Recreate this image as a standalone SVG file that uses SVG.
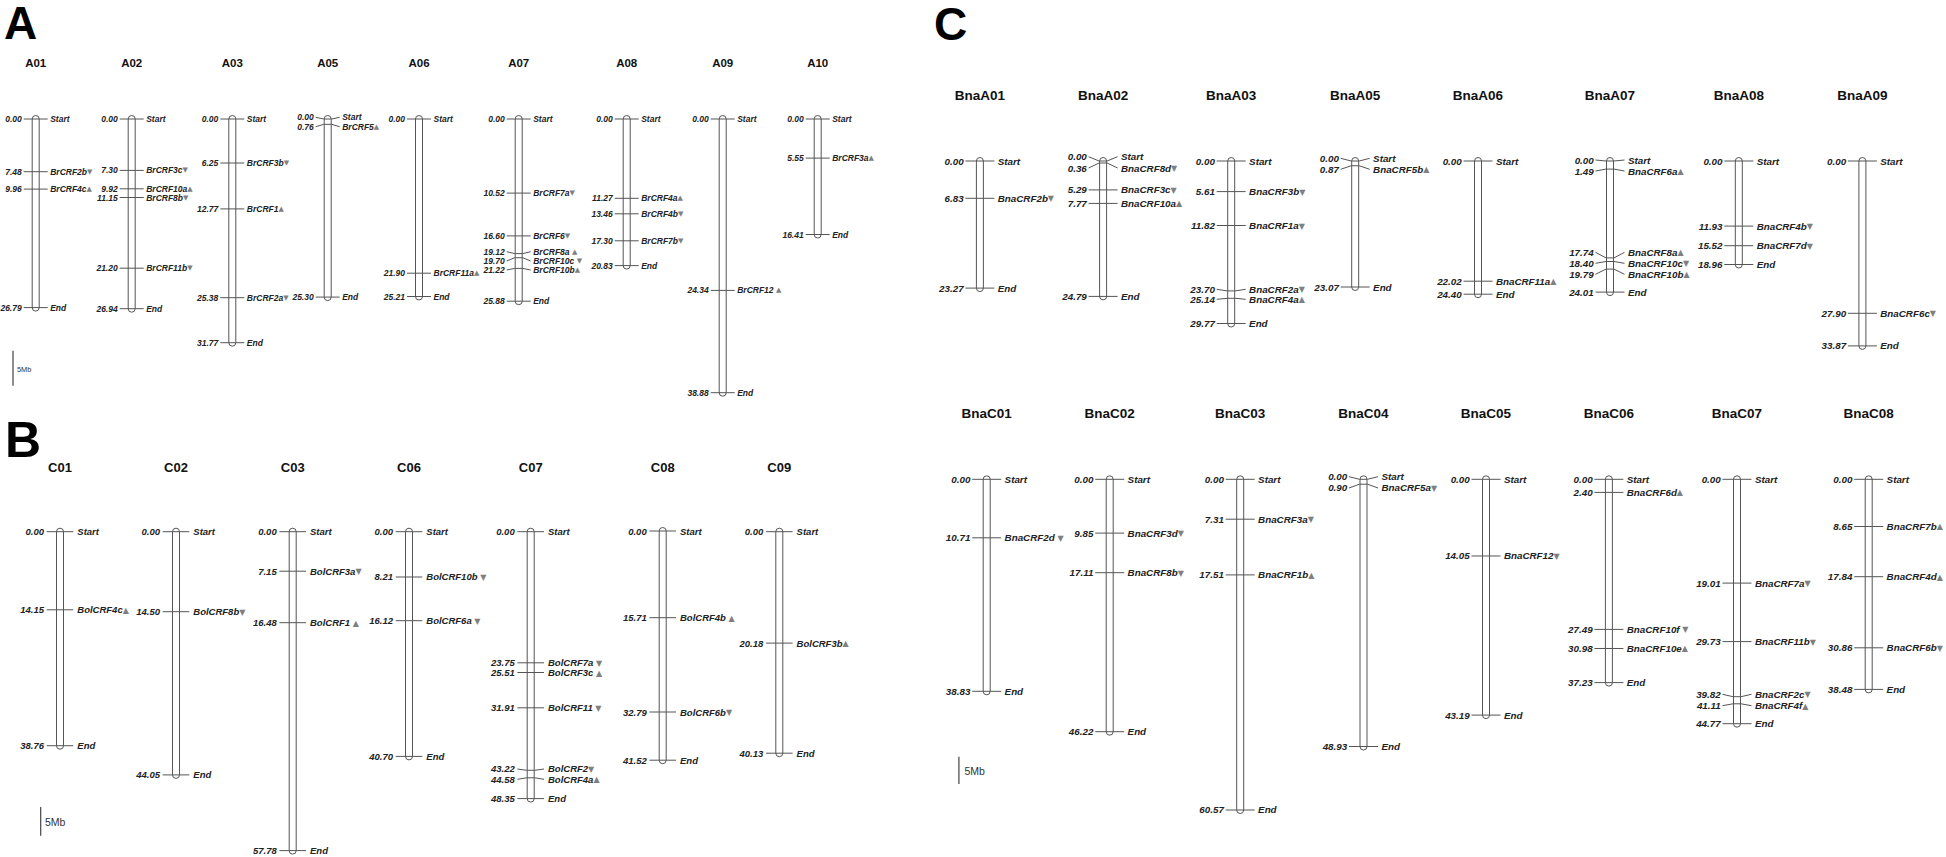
<svg xmlns="http://www.w3.org/2000/svg" width="1946" height="857" viewBox="0 0 1946 857">
<style>
text{font-family:"Liberation Sans",Arial,sans-serif;dominant-baseline:central}
.ch{fill:#fff;stroke:#555;stroke-width:1}
.tk{fill:none;stroke:#555;stroke-width:1}
.na,.ga{font-style:italic;font-weight:bold;font-size:8.5px;fill:#222}
.nb,.gb{font-style:italic;font-weight:bold;font-size:9.5px;fill:#222}
.nc,.gc{font-style:italic;font-weight:bold;font-size:9.8px;fill:#222}
.na,.nb,.nc{text-anchor:end}
.tr{font-family:"DejaVu Sans",sans-serif;font-style:normal;fill:#808080;font-size:7px}
.trb{font-family:"DejaVu Sans",sans-serif;font-style:normal;fill:#808080;font-size:8px}
.ta{font-weight:bold;font-size:11.5px;text-anchor:middle;fill:#111}
.tb{font-weight:bold;font-size:13px;text-anchor:middle;fill:#111}
.tc{font-weight:bold;font-size:13.5px;text-anchor:middle;fill:#111}
.big{font-weight:bold;font-size:46px;fill:#000;dominant-baseline:auto}
.sb{stroke:#444;stroke-width:1.2}
.sbt{font-size:10.5px;fill:#333}
</style>
<rect width="1946" height="857" fill="#fff"/>
<g id="labels">
<text class="big" x="4" y="39">A</text>
<text class="big" x="5" y="457" style="font-size:50px">B</text>
<text class="big" x="934" y="39.5">C</text>
</g>
<g id="scalebars">
<line class="sb" x1="13" y1="350.7" x2="13" y2="385.7"/><text class="sbt" x="17" y="369" style="font-size:7.4px">5Mb</text>
<line class="sb" x1="40.7" y1="807" x2="40.7" y2="835.7"/><text class="sbt" x="45" y="822">5Mb</text>
<line class="sb" x1="958.9" y1="756.7" x2="958.9" y2="784"/><text class="sbt" x="964.4" y="770.7">5Mb</text>
</g>
<g id="titles">
<text class="ta" x="35.7" y="63">A01</text><text class="ta" x="131.7" y="63">A02</text><text class="ta" x="232.3" y="63">A03</text><text class="ta" x="327.7" y="63">A05</text><text class="ta" x="419" y="63">A06</text><text class="ta" x="518.7" y="63">A07</text><text class="ta" x="626.7" y="63">A08</text><text class="ta" x="722.7" y="63">A09</text><text class="ta" x="817.7" y="63">A10</text>
<text class="tb" x="60" y="467.7">C01</text><text class="tb" x="176" y="467.7">C02</text><text class="tb" x="292.7" y="467.7">C03</text><text class="tb" x="409" y="467.7">C06</text><text class="tb" x="530.7" y="467.7">C07</text><text class="tb" x="662.7" y="467.7">C08</text><text class="tb" x="779.3" y="467.7">C09</text>
<text class="tc" x="979.9" y="95">BnaA01</text><text class="tc" x="1103.1" y="95">BnaA02</text><text class="tc" x="1231.2" y="95">BnaA03</text><text class="tc" x="1355.2" y="95">BnaA05</text><text class="tc" x="1478" y="95">BnaA06</text><text class="tc" x="1610" y="95">BnaA07</text><text class="tc" x="1738.8" y="95">BnaA08</text><text class="tc" x="1862.4" y="95">BnaA09</text>
<text class="tc" x="986.7" y="413.3">BnaC01</text><text class="tc" x="1109.7" y="413.3">BnaC02</text><text class="tc" x="1240.2" y="413.3">BnaC03</text><text class="tc" x="1363.5" y="413.3">BnaC04</text><text class="tc" x="1486" y="413.3">BnaC05</text><text class="tc" x="1608.9" y="413.3">BnaC06</text><text class="tc" x="1737" y="413.3">BnaC07</text><text class="tc" x="1868.7" y="413.3">BnaC08</text>
</g>

<!-- Panel A -->
<g id="A01" transform="translate(35.7,119)">
<rect class="ch" x="-3.5" y="-3.5" width="7" height="195.6" rx="3.5"/>
<path class="tk" d="M-12 0H12M-12 52.7H12M-12 70.1H12M-12 188.6H12"/>
<text class="na" x="-14" y="0">0.00</text><text class="ga" x="14.5" y="0">Start</text>
<text class="na" x="-14" y="52.7">7.48</text><text class="ga" x="14.5" y="52.7">BrCRF2b<tspan class="tr">▼</tspan></text>
<text class="na" x="-14" y="70.1">9.96</text><text class="ga" x="14.5" y="70.1">BrCRF4c<tspan class="tr">▲</tspan></text>
<text class="na" x="-14" y="188.6">26.79</text><text class="ga" x="14.5" y="188.6">End</text>
</g>
<g id="A02" transform="translate(131.7,119)">
<rect class="ch" x="-3.5" y="-3.5" width="7" height="196.7" rx="3.5"/>
<path class="tk" d="M-12 0H12M-12 51.4H12M-12 69.8H12M-12 78.5H12M-12 149.2H12M-12 189.7H12"/>
<text class="na" x="-14" y="0">0.00</text><text class="ga" x="14.5" y="0">Start</text>
<text class="na" x="-14" y="51.4">7.30</text><text class="ga" x="14.5" y="51.4">BrCRF3c<tspan class="tr">▼</tspan></text>
<text class="na" x="-14" y="69.8">9.92</text><text class="ga" x="14.5" y="69.8">BrCRF10a<tspan class="tr">▲</tspan></text>
<text class="na" x="-14" y="78.5">11.15</text><text class="ga" x="14.5" y="78.5">BrCRF8b<tspan class="tr">▼</tspan></text>
<text class="na" x="-14" y="149.2">21.20</text><text class="ga" x="14.5" y="149.2">BrCRF11b<tspan class="tr">▼</tspan></text>
<text class="na" x="-14" y="189.7">26.94</text><text class="ga" x="14.5" y="189.7">End</text>
</g>
<g id="A03" transform="translate(232.3,119)">
<rect class="ch" x="-3.5" y="-3.5" width="7" height="230.7" rx="3.5"/>
<path class="tk" d="M-12 0H12M-12 44H12M-12 89.9H12M-12 178.7H12M-12 223.7H12"/>
<text class="na" x="-14" y="0">0.00</text><text class="ga" x="14.5" y="0">Start</text>
<text class="na" x="-14" y="44">6.25</text><text class="ga" x="14.5" y="44">BrCRF3b<tspan class="tr">▼</tspan></text>
<text class="na" x="-14" y="89.9">12.77</text><text class="ga" x="14.5" y="89.9">BrCRF1<tspan class="tr">▲</tspan></text>
<text class="na" x="-14" y="178.7">25.38</text><text class="ga" x="14.5" y="178.7">BrCRF2a<tspan class="tr">▼</tspan></text>
<text class="na" x="-14" y="223.7">31.77</text><text class="ga" x="14.5" y="223.7">End</text>
</g>
<g id="A05" transform="translate(327.7,119)">
<rect class="ch" x="-3.5" y="-3.5" width="7" height="185.1" rx="3.5"/>
<path class="tk" d="M-12 -1.7L-4 0H4L12 -1.7M-12 7.7L-4 5.35H4L12 7.7M-12 178.1H12"/>
<text class="na" x="-14" y="-1.7">0.00</text><text class="ga" x="14.5" y="-1.7">Start</text>
<text class="na" x="-14" y="7.7">0.76</text><text class="ga" x="14.5" y="7.7">BrCRF5<tspan class="tr">▲</tspan></text>
<text class="na" x="-14" y="178.1">25.30</text><text class="ga" x="14.5" y="178.1">End</text>
</g>
<g id="A06" transform="translate(419,119)">
<rect class="ch" x="-3.5" y="-3.5" width="7" height="184.5" rx="3.5"/>
<path class="tk" d="M-12 0H12M-12 154.2H12M-12 177.5H12"/>
<text class="na" x="-14" y="0">0.00</text><text class="ga" x="14.5" y="0">Start</text>
<text class="na" x="-14" y="154.2">21.90</text><text class="ga" x="14.5" y="154.2">BrCRF11a<tspan class="tr">▲</tspan></text>
<text class="na" x="-14" y="177.5">25.21</text><text class="ga" x="14.5" y="177.5">End</text>
</g>
<g id="A07" transform="translate(518.7,119)">
<rect class="ch" x="-3.5" y="-3.5" width="7" height="189.2" rx="3.5"/>
<path class="tk" d="M-12 0H12M-12 74.1H12M-12 116.9H12M-12 132.7L-4 134.6H4L12 132.7M-12 142L-4 138.7H4L12 142M-12 151L-4 149.4H4L12 151M-12 182.2H12"/>
<text class="na" x="-14" y="0">0.00</text><text class="ga" x="14.5" y="0">Start</text>
<text class="na" x="-14" y="74.1">10.52</text><text class="ga" x="14.5" y="74.1">BrCRF7a<tspan class="tr">▼</tspan></text>
<text class="na" x="-14" y="116.9">16.60</text><text class="ga" x="14.5" y="116.9">BrCRF6<tspan class="tr">▼</tspan></text>
<text class="na" x="-14" y="132.7">19.12</text><text class="ga" x="14.5" y="132.7">BrCRF8a <tspan class="tr">▲</tspan></text>
<text class="na" x="-14" y="142">19.70</text><text class="ga" x="14.5" y="142">BrCRF10c <tspan class="tr">▼</tspan></text>
<text class="na" x="-14" y="151">21.22</text><text class="ga" x="14.5" y="151">BrCRF10b<tspan class="tr">▲</tspan></text>
<text class="na" x="-14" y="182.2">25.88</text><text class="ga" x="14.5" y="182.2">End</text>
</g>
<g id="A08" transform="translate(626.7,119)">
<rect class="ch" x="-3.5" y="-3.5" width="7" height="153.6" rx="3.5"/>
<path class="tk" d="M-12 0H12M-12 79.3H12M-12 94.8H12M-12 121.8H12M-12 146.6H12"/>
<text class="na" x="-14" y="0">0.00</text><text class="ga" x="14.5" y="0">Start</text>
<text class="na" x="-14" y="79.3">11.27</text><text class="ga" x="14.5" y="79.3">BrCRF4a<tspan class="tr">▲</tspan></text>
<text class="na" x="-14" y="94.8">13.46</text><text class="ga" x="14.5" y="94.8">BrCRF4b<tspan class="tr">▼</tspan></text>
<text class="na" x="-14" y="121.8">17.30</text><text class="ga" x="14.5" y="121.8">BrCRF7b<tspan class="tr">▼</tspan></text>
<text class="na" x="-14" y="146.6">20.83</text><text class="ga" x="14.5" y="146.6">End</text>
</g>
<g id="A09" transform="translate(722.7,119)">
<rect class="ch" x="-3.5" y="-3.5" width="7" height="280.7" rx="3.5"/>
<path class="tk" d="M-12 0H12M-12 171.4H12M-12 273.7H12"/>
<text class="na" x="-14" y="0">0.00</text><text class="ga" x="14.5" y="0">Start</text>
<text class="na" x="-14" y="171.4">24.34</text><text class="ga" x="14.5" y="171.4">BrCRF12 <tspan class="tr">▲</tspan></text>
<text class="na" x="-14" y="273.7">38.88</text><text class="ga" x="14.5" y="273.7">End</text>
</g>
<g id="A10" transform="translate(817.7,119)">
<rect class="ch" x="-3.5" y="-3.5" width="7" height="122.5" rx="3.5"/>
<path class="tk" d="M-12 0H12M-12 39.1H12M-12 115.5H12"/>
<text class="na" x="-14" y="0">0.00</text><text class="ga" x="14.5" y="0">Start</text>
<text class="na" x="-14" y="39.1">5.55</text><text class="ga" x="14.5" y="39.1">BrCRF3a<tspan class="tr">▲</tspan></text>
<text class="na" x="-14" y="115.5">16.41</text><text class="ga" x="14.5" y="115.5">End</text>
</g>

<!-- Panel B -->
<g id="C01" transform="translate(60,531.7)">
<rect class="ch" x="-3.5" y="-3.5" width="7" height="221" rx="3.5"/>
<path class="tk" d="M-13.3 0H13.3M-13.3 78.1H13.3M-13.3 214H13.3"/>
<text class="nb" x="-16" y="0">0.00</text><text class="gb" x="17.3" y="0">Start</text>
<text class="nb" x="-16" y="78.1">14.15</text><text class="gb" x="17.3" y="78.1">BolCRF4c<tspan class="trb">▲</tspan></text>
<text class="nb" x="-16" y="214">38.76</text><text class="gb" x="17.3" y="214">End</text>
</g>
<g id="C02" transform="translate(176,531.7)">
<rect class="ch" x="-3.5" y="-3.5" width="7" height="250.2" rx="3.5"/>
<path class="tk" d="M-13.3 0H13.3M-13.3 80H13.3M-13.3 243.2H13.3"/>
<text class="nb" x="-16" y="0">0.00</text><text class="gb" x="17.3" y="0">Start</text>
<text class="nb" x="-16" y="80">14.50</text><text class="gb" x="17.3" y="80">BolCRF8b<tspan class="trb">▼</tspan></text>
<text class="nb" x="-16" y="243.2">44.05</text><text class="gb" x="17.3" y="243.2">End</text>
</g>
<g id="C03" transform="translate(292.7,531.7)">
<rect class="ch" x="-3.5" y="-3.5" width="7" height="325.9" rx="3.5"/>
<path class="tk" d="M-13.3 0H13.3M-13.3 39.5H13.3M-13.3 91H13.3M-13.3 318.9H13.3"/>
<text class="nb" x="-16" y="0">0.00</text><text class="gb" x="17.3" y="0">Start</text>
<text class="nb" x="-16" y="39.5">7.15</text><text class="gb" x="17.3" y="39.5">BolCRF3a<tspan class="trb">▼</tspan></text>
<text class="nb" x="-16" y="91">16.48</text><text class="gb" x="17.3" y="91">BolCRF1 <tspan class="trb">▲</tspan></text>
<text class="nb" x="-16" y="318.9">57.78</text><text class="gb" x="17.3" y="318.9">End</text>
</g>
<g id="C06" transform="translate(409,531.7)">
<rect class="ch" x="-3.5" y="-3.5" width="7" height="231.7" rx="3.5"/>
<path class="tk" d="M-13.3 0H13.3M-13.3 45.3H13.3M-13.3 89H13.3M-13.3 224.7H13.3"/>
<text class="nb" x="-16" y="0">0.00</text><text class="gb" x="17.3" y="0">Start</text>
<text class="nb" x="-16" y="45.3">8.21</text><text class="gb" x="17.3" y="45.3">BolCRF10b <tspan class="trb">▼</tspan></text>
<text class="nb" x="-16" y="89">16.12</text><text class="gb" x="17.3" y="89">BolCRF6a <tspan class="trb">▼</tspan></text>
<text class="nb" x="-16" y="224.7">40.70</text><text class="gb" x="17.3" y="224.7">End</text>
</g>
<g id="C07" transform="translate(530.7,531.7)">
<rect class="ch" x="-3.5" y="-3.5" width="7" height="273.9" rx="3.5"/>
<path class="tk" d="M-13.3 0H13.3M-13.3 131.1H13.3M-13.3 140.8H13.3M-13.3 176.1H13.3M-13.3 237.3L-4 238.6H4L13.3 237.3M-13.3 247.6L-4 246.1H4L13.3 247.6M-13.3 266.9H13.3"/>
<text class="nb" x="-16" y="0">0.00</text><text class="gb" x="17.3" y="0">Start</text>
<text class="nb" x="-16" y="131.1">23.75</text><text class="gb" x="17.3" y="131.1">BolCRF7a <tspan class="trb">▼</tspan></text>
<text class="nb" x="-16" y="141.2">25.51</text><text class="gb" x="17.3" y="141.2">BolCRF3c <tspan class="trb">▲</tspan></text>
<text class="nb" x="-16" y="176.1">31.91</text><text class="gb" x="17.3" y="176.1">BolCRF11 <tspan class="trb">▼</tspan></text>
<text class="nb" x="-16" y="237.3">43.22</text><text class="gb" x="17.3" y="237.3">BolCRF2<tspan class="trb">▼</tspan></text>
<text class="nb" x="-16" y="247.6">44.58</text><text class="gb" x="17.3" y="247.6">BolCRF4a<tspan class="trb">▲</tspan></text>
<text class="nb" x="-16" y="266.9">48.35</text><text class="gb" x="17.3" y="266.9">End</text>
</g>
<g id="C08" transform="translate(662.7,531)">
<rect class="ch" x="-3.5" y="-3.5" width="7" height="236.2" rx="3.5"/>
<path class="tk" d="M-13.3 0H13.3M-13.3 86.7H13.3M-13.3 181H13.3M-13.3 229.2H13.3"/>
<text class="nb" x="-16" y="0">0.00</text><text class="gb" x="17.3" y="0">Start</text>
<text class="nb" x="-16" y="86.7">15.71</text><text class="gb" x="17.3" y="86.7">BolCRF4b <tspan class="trb">▲</tspan></text>
<text class="nb" x="-16" y="181">32.79</text><text class="gb" x="17.3" y="181">BolCRF6b<tspan class="trb">▼</tspan></text>
<text class="nb" x="-16" y="229.2">41.52</text><text class="gb" x="17.3" y="229.2">End</text>
</g>
<g id="C09" transform="translate(779.3,531.7)">
<rect class="ch" x="-3.5" y="-3.5" width="7" height="228.5" rx="3.5"/>
<path class="tk" d="M-13.3 0H13.3M-13.3 111.4H13.3M-13.3 221.5H13.3"/>
<text class="nb" x="-16" y="0">0.00</text><text class="gb" x="17.3" y="0">Start</text>
<text class="nb" x="-16" y="111.4">20.18</text><text class="gb" x="17.3" y="111.4">BolCRF3b<tspan class="trb">▲</tspan></text>
<text class="nb" x="-16" y="221.5">40.13</text><text class="gb" x="17.3" y="221.5">End</text>
</g>

<!-- Panel C top -->
<g id="BnaA01" transform="translate(979.9,161)">
<rect class="ch" x="-3.5" y="-3.5" width="7" height="134.1" rx="3.5"/>
<path class="tk" d="M-14.5 0H14.5M-14.5 37.3H14.5M-14.5 127.1H14.5"/>
<text class="nc" x="-16.3" y="0">0.00</text><text class="gc" x="17.9" y="0">Start</text>
<text class="nc" x="-16.3" y="37.3">6.83</text><text class="gc" x="17.9" y="37.3">BnaCRF2b<tspan class="trb">▼</tspan></text>
<text class="nc" x="-16.3" y="127.1">23.27</text><text class="gc" x="17.9" y="127.1">End</text>
</g>
<g id="BnaA02" transform="translate(1103.1,161)">
<rect class="ch" x="-3.5" y="-3.5" width="7" height="142.4" rx="3.5"/>
<path class="tk" d="M-14.5 -4.3L-4 0H4L14.5 -4.3M-14.5 7L-4 2H4L14.5 7M-14.5 28.9H14.5M-14.5 42.4H14.5M-14.5 135.4H14.5"/>
<text class="nc" x="-16.3" y="-4.3">0.00</text><text class="gc" x="17.9" y="-4.3">Start</text>
<text class="nc" x="-16.3" y="7">0.36</text><text class="gc" x="17.9" y="7">BnaCRF8d<tspan class="trb">▼</tspan></text>
<text class="nc" x="-16.3" y="28.9">5.29</text><text class="gc" x="17.9" y="28.9">BnaCRF3c<tspan class="trb">▼</tspan></text>
<text class="nc" x="-16.3" y="42.4">7.77</text><text class="gc" x="17.9" y="42.4">BnaCRF10a<tspan class="trb">▲</tspan></text>
<text class="nc" x="-16.3" y="135.4">24.79</text><text class="gc" x="17.9" y="135.4">End</text>
</g>
<g id="BnaA03" transform="translate(1231.2,161)">
<rect class="ch" x="-3.5" y="-3.5" width="7" height="169.5" rx="3.5"/>
<path class="tk" d="M-14.5 0H14.5M-14.5 30.6H14.5M-14.5 64.5H14.5M-14.5 128.3L-4 129.9H4L14.5 128.3M-14.5 138.3L-4 137.3H4L14.5 138.3M-14.5 162.5H14.5"/>
<text class="nc" x="-16.3" y="0">0.00</text><text class="gc" x="17.9" y="0">Start</text>
<text class="nc" x="-16.3" y="30.6">5.61</text><text class="gc" x="17.9" y="30.6">BnaCRF3b<tspan class="trb">▼</tspan></text>
<text class="nc" x="-16.3" y="64.5">11.82</text><text class="gc" x="17.9" y="64.5">BnaCRF1a<tspan class="trb">▼</tspan></text>
<text class="nc" x="-16.3" y="128.3">23.70</text><text class="gc" x="17.9" y="128.3">BnaCRF2a<tspan class="trb">▼</tspan></text>
<text class="nc" x="-16.3" y="138.3">25.14</text><text class="gc" x="17.9" y="138.3">BnaCRF4a<tspan class="trb">▲</tspan></text>
<text class="nc" x="-16.3" y="162.5">29.77</text><text class="gc" x="17.9" y="162.5">End</text>
</g>
<g id="BnaA05" transform="translate(1355.2,161)">
<rect class="ch" x="-3.5" y="-3.5" width="7" height="133" rx="3.5"/>
<path class="tk" d="M-14.5 -2.7L-4 0H4L14.5 -2.7M-14.5 8.3L-4 4.75H4L14.5 8.3M-14.5 126H14.5"/>
<text class="nc" x="-16.3" y="-2.7">0.00</text><text class="gc" x="17.9" y="-2.7">Start</text>
<text class="nc" x="-16.3" y="8.3">0.87</text><text class="gc" x="17.9" y="8.3">BnaCRF5b<tspan class="trb">▲</tspan></text>
<text class="nc" x="-16.3" y="126">23.07</text><text class="gc" x="17.9" y="126">End</text>
</g>
<g id="BnaA06" transform="translate(1478,161)">
<rect class="ch" x="-3.5" y="-3.5" width="7" height="140.2" rx="3.5"/>
<path class="tk" d="M-14.5 0H14.5M-14.5 120.2H14.5M-14.5 133.2H14.5"/>
<text class="nc" x="-16.3" y="0">0.00</text><text class="gc" x="17.9" y="0">Start</text>
<text class="nc" x="-16.3" y="120.2">22.02</text><text class="gc" x="17.9" y="120.2">BnaCRF11a<tspan class="trb">▲</tspan></text>
<text class="nc" x="-16.3" y="133.2">24.40</text><text class="gc" x="17.9" y="133.2">End</text>
</g>
<g id="BnaA07" transform="translate(1610,161)">
<rect class="ch" x="-3.5" y="-3.5" width="7" height="138.1" rx="3.5"/>
<path class="tk" d="M-14.5 -1L-4 0H4L14.5 -1M-14.5 10L-4 8.1H4L14.5 10M-14.5 91.3L-4 96.9H4L14.5 91.3M-14.5 102.3L-4 100.5H4L14.5 102.3M-14.5 113.3L-4 108.1H4L14.5 113.3M-14.5 131.1H14.5"/>
<text class="nc" x="-16.3" y="-1">0.00</text><text class="gc" x="17.9" y="-1">Start</text>
<text class="nc" x="-16.3" y="10">1.49</text><text class="gc" x="17.9" y="10">BnaCRF6a<tspan class="trb">▲</tspan></text>
<text class="nc" x="-16.3" y="91.3">17.74</text><text class="gc" x="17.9" y="91.3">BnaCRF8a<tspan class="trb">▲</tspan></text>
<text class="nc" x="-16.3" y="102.3">18.40</text><text class="gc" x="17.9" y="102.3">BnaCRF10c<tspan class="trb">▼</tspan></text>
<text class="nc" x="-16.3" y="113.3">19.79</text><text class="gc" x="17.9" y="113.3">BnaCRF10b<tspan class="trb">▲</tspan></text>
<text class="nc" x="-16.3" y="131.1">24.01</text><text class="gc" x="17.9" y="131.1">End</text>
</g>
<g id="BnaA08" transform="translate(1738.8,161)">
<rect class="ch" x="-3.5" y="-3.5" width="7" height="110.5" rx="3.5"/>
<path class="tk" d="M-14.5 0H14.5M-14.5 65.1H14.5M-14.5 84.7H14.5M-14.5 103.5H14.5"/>
<text class="nc" x="-16.3" y="0">0.00</text><text class="gc" x="17.9" y="0">Start</text>
<text class="nc" x="-16.3" y="65.1">11.93</text><text class="gc" x="17.9" y="65.1">BnaCRF4b<tspan class="trb">▼</tspan></text>
<text class="nc" x="-16.3" y="84.7">15.52</text><text class="gc" x="17.9" y="84.7">BnaCRF7d<tspan class="trb">▼</tspan></text>
<text class="nc" x="-16.3" y="103.5">18.96</text><text class="gc" x="17.9" y="103.5">End</text>
</g>
<g id="BnaA09" transform="translate(1862.4,161)">
<rect class="ch" x="-3.5" y="-3.5" width="7" height="191.9" rx="3.5"/>
<path class="tk" d="M-14.5 0H14.5M-14.5 152.3H14.5M-14.5 184.9H14.5"/>
<text class="nc" x="-16.3" y="0">0.00</text><text class="gc" x="17.9" y="0">Start</text>
<text class="nc" x="-16.3" y="152.3">27.90</text><text class="gc" x="17.9" y="152.3">BnaCRF6c<tspan class="trb">▼</tspan></text>
<text class="nc" x="-16.3" y="184.9">33.87</text><text class="gc" x="17.9" y="184.9">End</text>
</g>

<!-- Panel C bottom -->
<g id="BnaC01" transform="translate(986.7,479.3)">
<rect class="ch" x="-3.5" y="-3.5" width="7" height="219" rx="3.5"/>
<path class="tk" d="M-14.5 0H14.5M-14.5 58.5H14.5M-14.5 212H14.5"/>
<text class="nc" x="-16.3" y="0">0.00</text><text class="gc" x="17.9" y="0">Start</text>
<text class="nc" x="-16.3" y="58.5">10.71</text><text class="gc" x="17.9" y="58.5">BnaCRF2d <tspan class="trb">▼</tspan></text>
<text class="nc" x="-16.3" y="212">38.83</text><text class="gc" x="17.9" y="212">End</text>
</g>
<g id="BnaC02" transform="translate(1109.7,479.3)">
<rect class="ch" x="-3.5" y="-3.5" width="7" height="259.4" rx="3.5"/>
<path class="tk" d="M-14.5 0H14.5M-14.5 53.8H14.5M-14.5 93.4H14.5M-14.5 252.4H14.5"/>
<text class="nc" x="-16.3" y="0">0.00</text><text class="gc" x="17.9" y="0">Start</text>
<text class="nc" x="-16.3" y="53.8">9.85</text><text class="gc" x="17.9" y="53.8">BnaCRF3d<tspan class="trb">▼</tspan></text>
<text class="nc" x="-16.3" y="93.4">17.11</text><text class="gc" x="17.9" y="93.4">BnaCRF8b<tspan class="trb">▼</tspan></text>
<text class="nc" x="-16.3" y="252.4">46.22</text><text class="gc" x="17.9" y="252.4">End</text>
</g>
<g id="BnaC03" transform="translate(1240.2,479.3)">
<rect class="ch" x="-3.5" y="-3.5" width="7" height="337.7" rx="3.5"/>
<path class="tk" d="M-14.5 0H14.5M-14.5 39.9H14.5M-14.5 95.6H14.5M-14.5 330.7H14.5"/>
<text class="nc" x="-16.3" y="0">0.00</text><text class="gc" x="17.9" y="0">Start</text>
<text class="nc" x="-16.3" y="39.9">7.31</text><text class="gc" x="17.9" y="39.9">BnaCRF3a<tspan class="trb">▼</tspan></text>
<text class="nc" x="-16.3" y="95.6">17.51</text><text class="gc" x="17.9" y="95.6">BnaCRF1b<tspan class="trb">▲</tspan></text>
<text class="nc" x="-16.3" y="330.7">60.57</text><text class="gc" x="17.9" y="330.7">End</text>
</g>
<g id="BnaC04" transform="translate(1363.5,479.3)">
<rect class="ch" x="-3.5" y="-3.5" width="7" height="274.2" rx="3.5"/>
<path class="tk" d="M-14.5 -2.6L-4 0H4L14.5 -2.6M-14.5 8.7L-4 4.9H4L14.5 8.7M-14.5 267.2H14.5"/>
<text class="nc" x="-16.3" y="-2.6">0.00</text><text class="gc" x="17.9" y="-2.6">Start</text>
<text class="nc" x="-16.3" y="8.7">0.90</text><text class="gc" x="17.9" y="8.7">BnaCRF5a<tspan class="trb">▼</tspan></text>
<text class="nc" x="-16.3" y="267.2">48.93</text><text class="gc" x="17.9" y="267.2">End</text>
</g>
<g id="BnaC05" transform="translate(1486,479.3)">
<rect class="ch" x="-3.5" y="-3.5" width="7" height="242.8" rx="3.5"/>
<path class="tk" d="M-14.5 0H14.5M-14.5 76.7H14.5M-14.5 235.8H14.5"/>
<text class="nc" x="-16.3" y="0">0.00</text><text class="gc" x="17.9" y="0">Start</text>
<text class="nc" x="-16.3" y="76.7">14.05</text><text class="gc" x="17.9" y="76.7">BnaCRF12<tspan class="trb">▼</tspan></text>
<text class="nc" x="-16.3" y="235.8">43.19</text><text class="gc" x="17.9" y="235.8">End</text>
</g>
<g id="BnaC06" transform="translate(1608.9,479.3)">
<rect class="ch" x="-3.5" y="-3.5" width="7" height="210.3" rx="3.5"/>
<path class="tk" d="M-14.5 0H14.5M-14.5 13.1H14.5M-14.5 150.1H14.5M-14.5 169.2H14.5M-14.5 203.3H14.5"/>
<text class="nc" x="-16.3" y="0">0.00</text><text class="gc" x="17.9" y="0">Start</text>
<text class="nc" x="-16.3" y="13.1">2.40</text><text class="gc" x="17.9" y="13.1">BnaCRF6d<tspan class="trb">▲</tspan></text>
<text class="nc" x="-16.3" y="150.1">27.49</text><text class="gc" x="17.9" y="150.1">BnaCRF10f <tspan class="trb">▼</tspan></text>
<text class="nc" x="-16.3" y="169.2">30.98</text><text class="gc" x="17.9" y="169.2">BnaCRF10e<tspan class="trb">▲</tspan></text>
<text class="nc" x="-16.3" y="203.3">37.23</text><text class="gc" x="17.9" y="203.3">End</text>
</g>
<g id="BnaC07" transform="translate(1737,479.3)">
<rect class="ch" x="-3.5" y="-3.5" width="7" height="251.4" rx="3.5"/>
<path class="tk" d="M-14.5 0H14.5M-14.5 103.8H14.5M-14.5 162.3H14.5M-14.5 215L-4 217.4H4L14.5 215M-14.5 226.4L-4 224.5H4L14.5 226.4M-14.5 244.4H14.5"/>
<text class="nc" x="-16.3" y="0">0.00</text><text class="gc" x="17.9" y="0">Start</text>
<text class="nc" x="-16.3" y="103.8">19.01</text><text class="gc" x="17.9" y="103.8">BnaCRF7a<tspan class="trb">▼</tspan></text>
<text class="nc" x="-16.3" y="162.3">29.73</text><text class="gc" x="17.9" y="162.3">BnaCRF11b<tspan class="trb">▼</tspan></text>
<text class="nc" x="-16.3" y="215">39.82</text><text class="gc" x="17.9" y="215">BnaCRF2c<tspan class="trb">▼</tspan></text>
<text class="nc" x="-16.3" y="226.4">41.11</text><text class="gc" x="17.9" y="226.4">BnaCRF4f<tspan class="trb">▲</tspan></text>
<text class="nc" x="-16.3" y="244.4">44.77</text><text class="gc" x="17.9" y="244.4">End</text>
</g>
<g id="BnaC08" transform="translate(1868.7,479.3)">
<rect class="ch" x="-3.5" y="-3.5" width="7" height="217.1" rx="3.5"/>
<path class="tk" d="M-14.5 0H14.5M-14.5 47.2H14.5M-14.5 97.4H14.5M-14.5 168.5H14.5M-14.5 210.1H14.5"/>
<text class="nc" x="-16.3" y="0">0.00</text><text class="gc" x="17.9" y="0">Start</text>
<text class="nc" x="-16.3" y="47.2">8.65</text><text class="gc" x="17.9" y="47.2">BnaCRF7b<tspan class="trb">▲</tspan></text>
<text class="nc" x="-16.3" y="97.4">17.84</text><text class="gc" x="17.9" y="97.4">BnaCRF4d<tspan class="trb">▲</tspan></text>
<text class="nc" x="-16.3" y="168.5">30.86</text><text class="gc" x="17.9" y="168.5">BnaCRF6b<tspan class="trb">▼</tspan></text>
<text class="nc" x="-16.3" y="210.1">38.48</text><text class="gc" x="17.9" y="210.1">End</text>
</g>
<g id="connectors"/>
</svg>
